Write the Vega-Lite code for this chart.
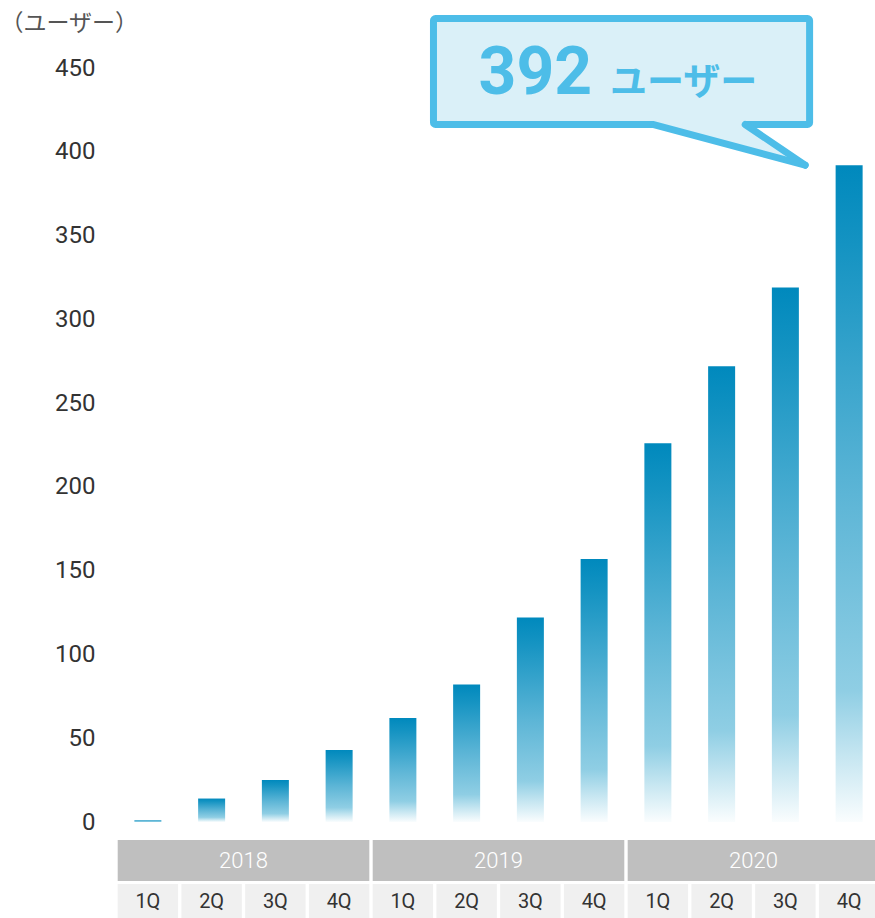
{
  "$schema": "https://vega.github.io/schema/vega-lite/v6.json",
  "padding": {"left": 0, "top": 1, "right": 0, "bottom": 0},
  "background": "white",
  "config": {"view": {"stroke": null}, "font": "Roboto"},
  "data": {
    "values": [
      {"year": "2018", "q": "1Q", "period": "2018 1Q", "users": 1},
      {"year": "2018", "q": "2Q", "period": "2018 2Q", "users": 14},
      {"year": "2018", "q": "3Q", "period": "2018 3Q", "users": 25},
      {"year": "2018", "q": "4Q", "period": "2018 4Q", "users": 43},
      {"year": "2019", "q": "1Q", "period": "2019 1Q", "users": 62},
      {"year": "2019", "q": "2Q", "period": "2019 2Q", "users": 82},
      {"year": "2019", "q": "3Q", "period": "2019 3Q", "users": 122},
      {"year": "2019", "q": "4Q", "period": "2019 4Q", "users": 157},
      {"year": "2020", "q": "1Q", "period": "2020 1Q", "users": 226},
      {"year": "2020", "q": "2Q", "period": "2020 2Q", "users": 272},
      {"year": "2020", "q": "3Q", "period": "2020 3Q", "users": 319},
      {"year": "2020", "q": "4Q", "period": "2020 4Q", "users": 392}
    ]
  },
  "bounds": "flush",
  "spacing": 18,
  "vconcat": [
    {
      "width": 765,
      "height": 821,
      "resolve": {"scale": {"x": "independent"}},
      "layer": [
        {
          "mark": {
            "type": "bar",
            "size": 27,
            "color": {
              "gradient": "linear",
              "x1": 0, "y1": 0, "x2": 0, "y2": 1,
              "stops": [
                {"offset": 0, "color": "#0089bd"},
                {"offset": 0.12, "color": "#1493c2"},
                {"offset": 0.5, "color": "#5cb5d6"},
                {"offset": 0.8, "color": "#8fcee4"},
                {"offset": 0.9, "color": "#c6e6f1"},
                {"offset": 1, "color": "#fafdfe"}
              ]
            }
          },
          "encoding": {
            "x": {
              "field": "period", "type": "nominal", "sort": null,
              "scale": {"paddingInner": 0, "paddingOuter": 0},
              "axis": null
            },
            "y": {
              "field": "users", "type": "quantitative",
              "scale": {"domain": [0, 490], "nice": false},
              "title": "（ユーザー）",
              "axis": {
                "values": [0, 50, 100, 150, 200, 250, 300, 350, 400, 450],
                "domain": false, "ticks": false, "grid": false,
                "labelPadding": 21, "labelFontSize": 24, "labelColor": "#333333",
                "labelFont": "Roboto",
                "titleAngle": 0, "titleAlign": "left", "titleBaseline": "middle",
                "titleX": -116, "titleY": 22, "titleFontSize": 23,
                "titleFont": "Noto Sans CJK JP", "titleFontWeight": "normal",
                "titleColor": "#555555"
              }
            }
          }
        },
        {
          "data": {"values": [{}]},
          "mark": {"type": "rect", "fill": "#daf0f8", "stroke": "#4dbde8", "strokeWidth": 7, "cornerRadius": 2},
          "encoding": {
            "x": {"datum": 4.98, "type": "quantitative", "scale": {"domain": [0, 12]}, "axis": null},
            "x2": {"datum": 10.88},
            "y": {"datum": 479.5, "type": "quantitative"},
            "y2": {"datum": 416.3}
          }
        },
        {
          "data": {"values": [{}]},
          "mark": {"type": "point", "shape": "M0,0 L-152,-40.5 L-152,-45 L-60,-45 L-60,-40.5 Z", "size": 4, "filled": true, "fill": "#daf0f8", "strokeWidth": 0, "opacity": 1},
          "encoding": {
            "x": {"datum": 10.81, "type": "quantitative", "scale": {"domain": [0, 12]}, "axis": null},
            "y": {"datum": 392, "type": "quantitative"}
          }
        },
        {
          "data": {"values": [{}]},
          "mark": {"type": "rule", "stroke": "#4dbde8", "strokeWidth": 7, "strokeCap": "round"},
          "encoding": {
            "x": {"datum": 8.42, "type": "quantitative", "scale": {"domain": [0, 12]}, "axis": null},
            "y": {"datum": 416.3, "type": "quantitative"},
            "x2": {"datum": 10.81},
            "y2": {"datum": 392}
          }
        },
        {
          "data": {"values": [{}]},
          "mark": {"type": "rule", "stroke": "#4dbde8", "strokeWidth": 7, "strokeCap": "round"},
          "encoding": {
            "x": {"datum": 9.87, "type": "quantitative", "scale": {"domain": [0, 12]}, "axis": null},
            "y": {"datum": 416.3, "type": "quantitative"},
            "x2": {"datum": 10.81},
            "y2": {"datum": 392}
          }
        },
        {
          "data": {"values": [{"label": "392"}]},
          "mark": {"type": "text", "align": "right", "baseline": "alphabetic", "fontSize": 66, "fontWeight": "bold", "font": "Roboto", "color": "#4dbde8"},
          "encoding": {
            "x": {"datum": 7.47, "type": "quantitative", "scale": {"domain": [0, 12]}, "axis": null},
            "y": {"datum": 434.5, "type": "quantitative"},
            "text": {"field": "label"}
          }
        },
        {
          "data": {"values": [{"label": "ユーザー"}]},
          "mark": {"type": "text", "align": "left", "baseline": "alphabetic", "fontSize": 37, "fontWeight": "bold", "font": "Noto Sans CJK JP", "color": "#4dbde8"},
          "encoding": {
            "x": {"datum": 7.75, "type": "quantitative", "scale": {"domain": [0, 12]}, "axis": null},
            "y": {"datum": 433.8, "type": "quantitative"},
            "text": {"field": "label"}
          }
        }
      ]
    },
    {
      "bounds": "flush",
      "spacing": 3,
      "vconcat": [
        {
          "width": 765,
          "height": 41,
          "transform": [{"aggregate": [{"op": "count", "as": "n"}], "groupby": ["year"]}],
          "layer": [
            {
              "mark": {"type": "rect", "color": "#bfbfbf"},
              "encoding": {
                "x": {"field": "year", "type": "nominal", "sort": null, "scale": {"paddingInner": 0.0133, "paddingOuter": 0.0067}, "axis": null}
              }
            },
            {
              "mark": {"type": "text", "color": "#ffffff", "fontSize": 22, "font": "Roboto", "fontWeight": 300, "baseline": "middle"},
              "encoding": {
                "x": {"field": "year", "type": "nominal", "sort": null, "axis": null},
                "text": {"field": "year"}
              }
            }
          ]
        },
        {
          "width": 765,
          "height": 34,
          "layer": [
            {
              "mark": {"type": "rect", "color": "#f0f0f0"},
              "encoding": {
                "x": {"field": "period", "type": "nominal", "sort": null, "scale": {"paddingInner": 0.052, "paddingOuter": 0.026}, "axis": null}
              }
            },
            {
              "mark": {"type": "text", "color": "#333333", "fontSize": 20, "font": "Roboto", "baseline": "middle", "dy": 1},
              "encoding": {
                "x": {"field": "period", "type": "nominal", "sort": null, "axis": null},
                "text": {"field": "q"}
              }
            }
          ]
        }
      ]
    }
  ]
}
